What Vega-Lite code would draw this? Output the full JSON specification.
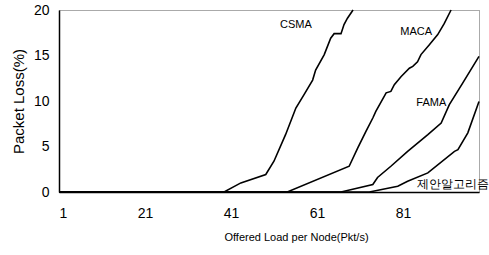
{
  "$schema": "https://vega.github.io/schema/vega-lite/v6.json",
  "width": 420,
  "height": 182,
  "autosize": {"type": "none"},
  "padding": {"left": 59, "top": 10, "right": 10, "bottom": 63},
  "config": {
    "view": {"stroke": "#555", "strokeDash": [1, 1], "strokeWidth": 1},
    "font": "Liberation Sans"
  },
  "layer": [
    {
      "data": {
        "values": [
          {"series": "CSMA", "x": 1, "y": 0},
          {"series": "CSMA", "x": 39.4, "y": 0},
          {"series": "CSMA", "x": 43.3, "y": 1.0},
          {"series": "CSMA", "x": 49.1, "y": 1.92},
          {"series": "CSMA", "x": 51.0, "y": 3.38},
          {"series": "CSMA", "x": 53.7, "y": 6.3},
          {"series": "CSMA", "x": 56.1, "y": 9.23},
          {"series": "CSMA", "x": 58.0, "y": 10.7},
          {"series": "CSMA", "x": 60.0, "y": 12.3},
          {"series": "CSMA", "x": 60.7, "y": 13.4},
          {"series": "CSMA", "x": 62.7, "y": 15.1},
          {"series": "CSMA", "x": 64.2, "y": 16.9},
          {"series": "CSMA", "x": 65.0, "y": 17.4},
          {"series": "CSMA", "x": 66.6, "y": 17.4},
          {"series": "CSMA", "x": 67.3, "y": 18.4},
          {"series": "CSMA", "x": 68.1, "y": 19.1},
          {"series": "CSMA", "x": 69.4, "y": 20},
          {"series": "MACA", "x": 1, "y": 0},
          {"series": "MACA", "x": 54.1, "y": 0},
          {"series": "MACA", "x": 68.5, "y": 2.83},
          {"series": "MACA", "x": 70.5, "y": 4.84},
          {"series": "MACA", "x": 72.4, "y": 6.66},
          {"series": "MACA", "x": 74.0, "y": 8.13},
          {"series": "MACA", "x": 74.7, "y": 8.85},
          {"series": "MACA", "x": 77.1, "y": 10.9},
          {"series": "MACA", "x": 78.2, "y": 11.05},
          {"series": "MACA", "x": 79.0, "y": 11.8},
          {"series": "MACA", "x": 80.6, "y": 12.7},
          {"series": "MACA", "x": 82.5, "y": 13.6},
          {"series": "MACA", "x": 83.3, "y": 13.8},
          {"series": "MACA", "x": 84.4, "y": 14.3},
          {"series": "MACA", "x": 85.2, "y": 15.1},
          {"series": "MACA", "x": 87.2, "y": 16.2},
          {"series": "MACA", "x": 89.1, "y": 17.3},
          {"series": "MACA", "x": 90.6, "y": 18.5},
          {"series": "MACA", "x": 92.2, "y": 20},
          {"series": "FAMA", "x": 1, "y": 0},
          {"series": "FAMA", "x": 66.6, "y": 0},
          {"series": "FAMA", "x": 74.0, "y": 0.82},
          {"series": "FAMA", "x": 75.1, "y": 1.6},
          {"series": "FAMA", "x": 78.2, "y": 2.83},
          {"series": "FAMA", "x": 82.1, "y": 4.47},
          {"series": "FAMA", "x": 86.8, "y": 6.3},
          {"series": "FAMA", "x": 89.9, "y": 7.58},
          {"series": "FAMA", "x": 91.8, "y": 9.6},
          {"series": "FAMA", "x": 94.9, "y": 11.97},
          {"series": "FAMA", "x": 98.7, "y": 14.9},
          {"series": "제안알고리즘", "x": 1, "y": 0},
          {"series": "제안알고리즘", "x": 73.2, "y": 0},
          {"series": "제안알고리즘", "x": 79.8, "y": 0.64},
          {"series": "제안알고리즘", "x": 82.1, "y": 1.18},
          {"series": "제안알고리즘", "x": 86.8, "y": 2.1},
          {"series": "제안알고리즘", "x": 93.0, "y": 4.47},
          {"series": "제안알고리즘", "x": 93.8, "y": 4.66},
          {"series": "제안알고리즘", "x": 96.1, "y": 6.5},
          {"series": "제안알고리즘", "x": 98.7, "y": 9.95}
        ]
      },
      "mark": {"type": "line", "color": "black", "strokeWidth": 1.6},
      "encoding": {
        "x": {
          "field": "x",
          "type": "quantitative",
          "scale": {"domain": [1, 98.7], "nice": false, "zero": false},
          "axis": {
            "values": [1, 21, 41, 61, 81],
            "title": "Offered Load per Node(Pkt/s)",
            "grid": false,
            "ticks": false,
            "domainColor": "black",
            "domainWidth": 1.5,
            "labelFontSize": 14,
            "labelPadding": 14,
            "labelColor": "black",
            "titleFontSize": 11,
            "titleFontWeight": "normal",
            "titleColor": "black",
            "titlePadding": 11,
            "titleX": 237,
            "titleAlign": "center"
          }
        },
        "y": {
          "field": "y",
          "type": "quantitative",
          "scale": {"domain": [0, 20], "nice": false},
          "axis": {
            "values": [0, 5, 10, 15, 20],
            "title": "Packet Loss(%)",
            "grid": false,
            "ticks": false,
            "domainColor": "black",
            "domainWidth": 1.5,
            "labelFontSize": 14,
            "labelPadding": 10,
            "labelColor": "black",
            "titleFontSize": 15,
            "titleFontWeight": "normal",
            "titleColor": "black",
            "titlePadding": 7
          }
        },
        "detail": {"field": "series", "type": "nominal"}
      }
    },
    {
      "data": {
        "values": [
          {"label": "CSMA", "x": 56.1, "y": 18.4, "font": "Liberation Sans", "size": 11},
          {"label": "MACA", "x": 84.1, "y": 17.6, "font": "Liberation Sans", "size": 11},
          {"label": "FAMA", "x": 87.6, "y": 9.8, "font": "Liberation Sans", "size": 11},
          {"label": "제안알고리즘", "x": 92.7, "y": 0.93, "font": "Noto Sans CJK KR", "size": 12}
        ]
      },
      "mark": {"type": "text", "color": "black", "align": "center", "baseline": "middle"},
      "encoding": {
        "x": {"field": "x", "type": "quantitative"},
        "y": {"field": "y", "type": "quantitative"},
        "text": {"field": "label"},
        "font": {"field": "font", "type": "nominal", "scale": null},
        "size": {"field": "size", "type": "quantitative", "scale": null}
      }
    }
  ]
}
